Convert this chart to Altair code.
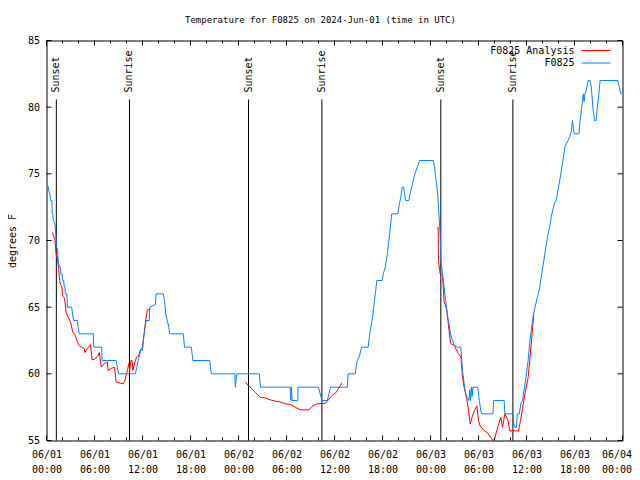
import altair as alt
import pandas as pd
from datetime import datetime, timezone

# ---------------- data (hours after 2024-06-01 00:00 UTC) ----------------
obs_hours = [0.17, 0.30, 0.45, 0.50, 0.67, 0.72, 0.79, 0.85, 1.05, 1.15, 1.25, 1.40, 1.45, 1.60, 1.75,
             1.80, 1.95, 2.00, 2.15, 2.20, 2.30, 2.35, 2.55, 2.60, 3.15, 3.25, 3.40, 3.85, 3.95, 4.10,
             5.85, 5.90, 6.90, 6.95, 8.70, 8.85, 9.00, 11.10, 11.30, 11.45, 11.60, 11.75, 12.00, 12.10,
             12.20, 12.45, 12.85, 12.90, 13.60, 13.70, 14.60, 14.75, 14.90, 15.10, 15.30, 15.40, 17.10,
             17.25, 18.10, 18.30, 20.40, 20.60, 23.55, 23.60, 23.70, 23.80, 26.60, 26.75, 30.45, 30.50,
             30.55, 30.60, 30.70, 31.40, 31.45, 34.00, 34.20, 34.45, 35.10, 35.30, 35.50, 37.60, 37.70,
             38.60, 38.70, 38.85, 39.10, 39.40, 40.20, 40.40, 40.70, 40.90, 41.10, 41.30, 41.95, 42.10,
             42.35, 42.60, 42.90, 43.15, 43.90, 44.10, 44.30, 44.45, 44.65, 44.75, 44.90, 45.30, 45.45,
             45.65, 45.85, 46.05, 46.35, 46.65, 48.35, 48.50, 48.70, 48.90, 49.05, 49.20, 49.30, 49.50,
             49.70, 49.90, 50.10, 50.30, 50.50, 50.70, 50.97, 51.30, 51.80, 51.90, 52.00, 52.20, 52.40,
             52.60, 52.80, 52.90, 53.00, 53.10, 53.20, 53.30, 53.90, 54.10, 54.30, 54.40, 55.80, 55.90,
             57.20, 57.30, 58.30, 58.40, 58.50, 58.75, 58.85, 59.10, 59.30, 59.50, 59.75, 59.95, 60.20,
             60.40, 60.60, 60.80, 61.00, 61.30, 61.60, 61.90, 62.30, 62.60, 62.90, 63.10, 63.30, 63.50,
             63.70, 64.00, 64.30, 64.55, 64.80, 65.00, 65.20, 65.40, 65.60, 65.75, 65.85, 65.95, 66.55,
             66.70, 66.90, 67.00, 67.10, 67.20, 67.30, 67.45, 67.70, 67.95, 68.10, 68.30, 68.50, 68.70,
             68.85, 69.05, 69.20, 71.40, 71.60, 71.80, 71.90]
obs_temps = [74.1, 73.7, 73.4, 73.0, 73.0, 72.0, 72.0, 71.5, 71.3, 70.5, 69.5, 69.3, 68.5, 68.0, 68.0,
             67.5, 67.5, 67.0, 67.0, 66.6, 66.6, 66.0, 66.0, 65.0, 65.0, 64.5, 64.0, 64.0, 63.5, 63.0,
             63.0, 62.0, 62.0, 61.0, 61.0, 60.5, 60.0, 60.0, 60.5, 61.0, 61.3, 61.75, 61.75, 62.5,
             63.0, 64.0, 64.0, 65.0, 65.2, 66.0, 66.0, 65.5, 64.5, 64.0, 63.5, 63.0, 63.0,
             62.0, 62.0, 61.0, 61.0, 60.0, 60.0, 59.0, 59.5, 60.0, 60.0, 59.0, 59.0, 58.5,
             58.0, 59.0, 58.0, 58.0, 59.0, 59.0, 58.5, 58.0, 58.0, 58.5, 59.0, 59.0, 60.0,
             60.0, 60.5, 61.0, 61.3, 62.0, 62.0, 63.0, 64.0, 65.0, 66.0, 67.0, 67.0, 67.5,
             68.0, 69.0, 70.5, 72.0, 72.0, 72.7, 73.3, 74.0, 74.0, 73.5, 73.0, 73.0, 73.5,
             74.0, 74.5, 75.0, 75.5, 76.0, 76.0, 75.5, 74.5, 73.5, 72.0, 70.5, 68.5, 67.5,
             66.5, 65.5, 64.5, 63.8, 63.0, 62.6, 62.2, 62.0, 62.0, 61.0, 60.25, 59.3, 58.5,
             58.2, 58.0, 58.8, 58.0, 59.0, 58.3, 59.0, 59.0, 58.0, 57.2, 57.0, 57.0, 58.0,
             58.0, 57.0, 57.0, 56.3, 56.0, 56.0, 57.0, 57.0, 57.8, 58.0, 59.0, 59.8, 61.0,
             62.3, 63.3, 64.2, 64.8, 65.6, 66.3, 67.5, 69.0, 70.2, 71.0, 71.8, 72.3, 72.8,
             73.0, 74.0, 75.0, 76.0, 77.0, 77.3, 77.5, 77.8, 78.2, 79.0, 78.5, 78.0, 78.0,
             79.0, 80.0, 80.5, 81.0, 80.4, 81.0, 81.2, 82.0, 82.0, 81.5, 80.0, 79.0, 79.0,
             80.0, 81.0, 82.0, 82.0, 81.5, 81.0, 81.0]

ana1_hours = [0.75, 0.90, 1.05, 1.20, 1.35, 1.50, 1.65, 1.75, 1.90, 2.05, 2.25, 2.45, 2.75, 3.00, 3.30,
              3.60, 3.80, 4.10, 4.70, 4.80, 5.10, 5.50, 5.70, 6.00, 6.40, 6.60, 6.85, 7.20, 7.60, 7.70,
              8.10, 8.50, 8.70, 9.20, 9.60, 9.80, 10.00, 10.20, 10.30, 10.40, 10.55, 10.70, 10.80, 11.00,
              11.25, 11.50, 11.70, 12.00, 12.20, 12.30, 12.45, 12.60, 13.00]
ana1_temps = [70.6, 70.3, 70.1, 69.0, 68.7, 68.0, 67.0, 66.7, 66.6, 65.8, 65.7, 64.6, 64.2, 63.9, 63.1,
              62.9, 62.5, 62.1, 61.9, 61.6, 61.9, 62.2, 61.05, 61.1, 61.3, 61.6, 60.5, 60.75, 60.9, 60.25,
              60.4, 60.5, 59.4, 59.3, 59.25, 59.5, 60.0, 60.5, 60.8, 60.25, 61.0, 61.0, 60.25, 60.75,
              61.25, 61.3, 61.75, 62.0, 63.0, 63.5, 64.2, 64.8, 64.8]

ana2_hours = [24.84, 25.25, 25.67, 26.10, 26.70, 27.30, 27.97, 28.60, 29.20, 29.90, 30.50, 31.10, 31.70,
              32.40, 32.80, 33.20, 33.80, 34.90, 35.30, 35.70, 36.20, 36.60, 36.90]
ana2_temps = [59.4, 59.1, 58.9, 58.6, 58.25, 58.2, 58.05, 57.95, 57.9, 57.75, 57.7, 57.5, 57.3,
              57.3, 57.3, 57.55, 57.75, 57.8, 58.1, 58.4, 58.6, 59.0, 59.3]

ana3_hours = [48.80, 48.96, 49.00, 49.20, 49.50, 49.70, 50.00, 50.20, 50.50, 51.00, 51.40, 51.80, 52.00,
              52.20, 52.40, 52.60, 52.97, 53.20, 53.50, 53.80, 54.00, 54.20, 54.70, 55.10, 55.50, 55.80,
              56.00, 56.40, 56.80, 57.00, 57.30, 57.70, 57.90, 58.30, 59.00, 59.25, 59.50, 59.80, 60.20,
              60.40, 60.60, 60.80, 60.90]
ana3_temps = [70.95, 70.95, 68.5, 67.5, 67.4, 65.4, 64.9, 63.9, 62.3, 62.1, 61.6, 61.25, 59.75,
              59.0, 58.5, 57.9, 56.25, 56.75, 57.25, 57.6, 56.5, 56.1, 55.75, 55.6, 55.25, 55.0,
              55.1, 56.0, 56.75, 56.0, 57.0, 56.5, 55.7, 55.75, 55.7, 56.5, 57.4, 58.5, 59.7,
              61.0, 62.3, 63.75, 64.4]

sun_hours = [1.23, 10.37, 25.25, 34.42, 49.29, 58.30]
sun_labels = ["Sunset", "Sunrise", "Sunset", "Sunrise", "Sunset", "Sunrise"]

major_tick_hours = [0, 6, 12, 18, 24, 30, 36, 42, 48, 54, 60, 66, 72]
minor_tick_hours = [2, 4, 8, 10, 14, 16, 20, 22, 26, 28, 32, 34, 38, 40, 44, 46, 50, 52, 56, 58, 62, 64, 68, 70]
y_ticks = [55, 60, 65, 70, 75, 80, 85]

series_names = ["F0825 Analysis", "F0825"]
series_colors = ["#ff0000", "#0a80ff"]

# ---------------- helpers ----------------
BASE_MS = int(datetime(2024, 6, 1, tzinfo=timezone.utc).timestamp() * 1000)


def ms(h):
    return BASE_MS + int(round(h * 3600000))


MONO = "DejaVu Sans Mono"
W, H = 576, 400
LAST = ms(72)

obs_df = pd.DataFrame({"t": [ms(h) for h in obs_hours], "T": obs_temps})
ana_df = pd.DataFrame({
    "t": [ms(h) for h in ana1_hours + ana2_hours + ana3_hours],
    "T": ana1_temps + ana2_temps + ana3_temps,
    "seg": ["a"] * len(ana1_hours) + ["b"] * len(ana2_hours) + ["c"] * len(ana3_hours),
})
sun_df = pd.DataFrame({"t": [ms(h) for h in sun_hours], "label": sun_labels})
major_df = pd.DataFrame({"t": [ms(h) for h in major_tick_hours]})
minor_df = pd.DataFrame({"t": [ms(h) for h in minor_tick_hours]})
ytick_df = pd.DataFrame({"T": y_ticks})
legend_df = pd.DataFrame({"name": series_names, "color": series_colors, "row": [0, 1]})

xscale = alt.Scale(type="utc", domain=[ms(0), ms(72)], nice=False)
yscale = alt.Scale(domain=[55, 85], nice=False, zero=False)

xaxis = alt.Axis(
    values=[ms(h) for h in major_tick_hours],
    labelExpr="[utcFormat(datum.value, '%m/%d'), utcFormat(datum.value, '%H:%M')]",
    labelLineHeight=15, labelPadding=9, title=None, labelOverlap=False,
    labelAngle=0, labelFlush=False,
    labelAlign={"condition": {"test": f"datum.value >= {LAST}", "value": "right"}, "value": "center"},
    labelOffset={"condition": {"test": f"datum.value >= {LAST}", "value": 9}, "value": 0},
)
yaxis = alt.Axis(values=y_ticks, title="degrees F", labelPadding=7, titlePadding=10,
                 labelFlush=False)


def X(field="t"):
    return alt.X(f"{field}:T", scale=xscale, axis=xaxis)


def Y(field="T"):
    return alt.Y(f"{field}:Q", scale=yscale, axis=yaxis)


obs_line = alt.Chart(obs_df).mark_line(color=series_colors[1], strokeWidth=1).encode(x=X(), y=Y())
ana_line = alt.Chart(ana_df).mark_line(color=series_colors[0], strokeWidth=1).encode(
    x=X(), y=Y(), detail="seg:N")

sun_rules = alt.Chart(sun_df).mark_rule(color="black", strokeWidth=1).encode(
    x=X(), y=alt.value(59), y2=alt.value(H))
sun_text = alt.Chart(sun_df).mark_text(
    angle=270, align="left", baseline="middle", font=MONO, fontSize=10, color="black"
).encode(x=X(), y=alt.value(52), text="label:N")

tick_layers = []
for df, ln in ((major_df, 5), (minor_df, 3)):
    tick_layers.append(alt.Chart(df).mark_rule(color="black", strokeWidth=1).encode(
        x=X(), y=alt.value(H), y2=alt.value(H - ln)))
    tick_layers.append(alt.Chart(df).mark_rule(color="black", strokeWidth=1).encode(
        x=X(), y=alt.value(0), y2=alt.value(ln)))
tick_layers.append(alt.Chart(ytick_df).mark_rule(color="black", strokeWidth=1).encode(
    y=Y(), x=alt.value(0), x2=alt.value(5)))
tick_layers.append(alt.Chart(ytick_df).mark_rule(color="black", strokeWidth=1).encode(
    y=Y(), x=alt.value(W), x2=alt.value(W - 5)))

legend_layers = []
for i, (name, col) in enumerate(zip(series_names, series_colors)):
    ypos = 10 + 12.5 * i
    one = legend_df.iloc[[i]]
    legend_layers.append(alt.Chart(one).mark_text(
        align="right", baseline="middle", font=MONO, fontSize=10, color="black"
    ).encode(text="name:N", x=alt.value(528), y=alt.value(ypos)))
    legend_layers.append(alt.Chart(one).mark_rule(color=col, strokeWidth=1).encode(
        x=alt.value(535), x2=alt.value(564), y=alt.value(ypos)))

chart = alt.layer(
    sun_rules, sun_text, ana_line, obs_line, *tick_layers, *legend_layers
).properties(
    width=W, height=H,
    title=alt.TitleParams(
        "Temperature for F0825 on 2024-Jun-01 (time in UTC)",
        anchor="middle", font=MONO, fontSize=9, fontWeight="normal", offset=11, dx=-14, color="black"),
    autosize=alt.AutoSizeParams(type="none"),
    padding={"left": 38.5, "top": 32.5, "right": 9.5, "bottom": 40},
).configure_view(stroke="black", strokeWidth=1).configure_axis(
    grid=False, ticks=False, domain=False,
    labelFont=MONO, labelFontSize=10, labelColor="black",
    titleFont=MONO, titleFontSize=10, titleFontWeight="normal", titleColor="black",
)

chart.save("out.html", embed_options={"renderer": "svg", "actions": False})
